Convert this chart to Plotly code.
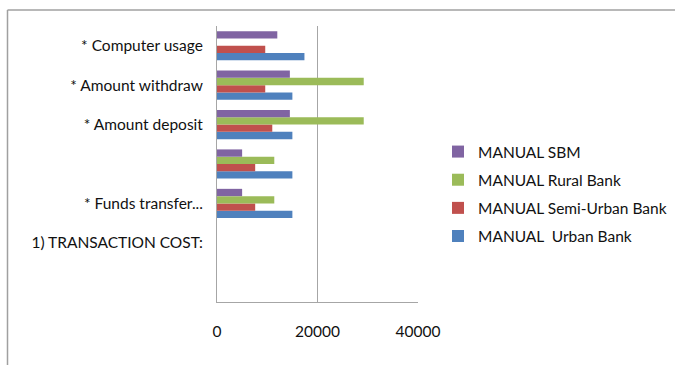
import plotly.graph_objects as go

# Row labels, bottom to top (blank rows use distinct whitespace keys)
categories = [" ", "1) TRANSACTION COST:", "* Funds transfer...", "  ",
              "* Amount deposit", "* Amount withdraw", "* Computer usage"]

urban = [None, None, 15000, 15000, 15000, 15000, 17400]
semi_urban = [None, None, 7600, 7600, 11000, 9600, 9600]
rural = [None, None, 11400, 11400, 29200, 29200, None]
sbm = [None, None, 5000, 5000, 14500, 14500, 12000]

series = [
    ("MANUAL  Urban Bank", urban, "#4F81BD"),
    ("MANUAL Semi-Urban Bank", semi_urban, "#C0504D"),
    ("MANUAL Rural Bank", rural, "#9BBB59"),
    ("MANUAL SBM", sbm, "#8064A2"),
]

x_ticks = [0, 20000, 40000]

fig = go.Figure()
for i, (name, vals, color) in enumerate(series):
    fig.add_trace(go.Bar(
        y=categories, x=vals, name=name, orientation="h",
        legendgroup=name, legendrank=1000 - i,
        marker=dict(color=color, line=dict(width=0)),
    ))

font = dict(family="Lato, 'Open Sans', sans-serif", size=15.5, color="#111111")

W, H = 675, 365

fig.update_layout(
    width=W, height=H,
    margin=dict(l=217, r=257, t=26, b=63, autoexpand=False),
    paper_bgcolor="white", plot_bgcolor="white",
    barmode="group", bargap=0.26, bargroupgap=0,
    font=font,
    showlegend=True,
    legend=dict(
        xref="container", yref="container",
        x=438 / W, y=1 - 194 / H, xanchor="left", yanchor="middle",
        traceorder="grouped", font=font,
        itemwidth=30, tracegroupgap=5,
        bgcolor="rgba(0,0,0,0)",
    ),
    xaxis=dict(
        range=[0, 40000], tickvals=x_ticks, ticktext=[str(v) for v in x_ticks],
        showgrid=True, gridcolor="#a6a6a6", gridwidth=1,
        showline=True, linecolor="#a6a6a6", linewidth=1,
        zeroline=False, ticks="", ticklabelstandoff=15,
        fixedrange=True,
    ),
    yaxis=dict(
        type="category", categoryorder="array", categoryarray=categories,
        showgrid=False, showline=True, linecolor="#a6a6a6", linewidth=1,
        ticks="", ticklabelstandoff=10, fixedrange=True,
    ),
    shapes=[
        # chart frame: left and top edges
        dict(type="line", xref="paper", yref="paper",
             x0=(7.5 - 217) / 201, x1=(7.5 - 217) / 201,
             y0=(302 - 370) / 276, y1=(302 - 10) / 276,
             line=dict(color="#a0a0a0", width=1.5), layer="below"),
        dict(type="line", xref="paper", yref="paper",
             x0=(7.5 - 217) / 201, x1=(680 - 217) / 201,
             y0=(302 - 10) / 276, y1=(302 - 10) / 276,
             line=dict(color="#a0a0a0", width=1.5), layer="below"),
    ],
)

fig.write_html("out.html")
